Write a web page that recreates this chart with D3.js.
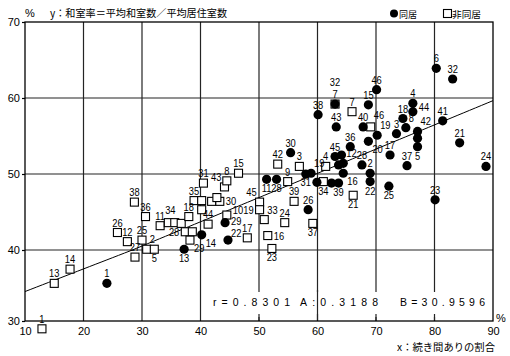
<!DOCTYPE html>
<html><head><meta charset="utf-8">
<script src="https://cdn.jsdelivr.net/npm/d3@7"></script>
<style>
html,body{margin:0;padding:0;background:#fff;}
svg{display:block;}
text{font-family:"Liberation Sans","Noto Sans CJK JP",sans-serif;fill:#000;}
.jp{font-family:"Noto Sans CJK JP",sans-serif;}
</style></head><body>
<svg id="chart" width="510" height="356"></svg>
<script>
// 同居 (filled circles): prefecture number, x = 続き間ありの割合 (%), y = 和室率 (%)
const dojuLabels = ["1","13","14","29","22","30","11","28","","19","26","31","","39","16","45","","","12","36","20","28","2","22","25","17","37","5","","42","3","8","18","4","44","41","6","32","21","24","23","46","15","38","32","43","40","19"];
const dojuX = [24.0,37.2,40.2,44.2,44.7, 55.4,51.3,53.0,58.0,58.9, 58.4,59.9,62.4,63.6,64.4, 63.0,64.1,63.6,64.4,65.6, 68.7,67.6,69.0,69.0,72.2, 72.4,75.3,77.1,77.1,77.1, 73.5,75.1,74.6,76.3,76.3, 81.4,80.3,83.1,84.3,88.8, 80.1,70.1,68.7,60.1,63.0, 63.2,67.8,70.2];
const dojuY = [35.3,40.1,42.0,43.6,41.3, 52.8,49.3,49.3,50.0,50.1, 45.3,48.9,48.8,48.8,50.1, 52.3,52.5,51.2,51.4,53.6, 54.3,51.2,50.1,49.0,48.4, 52.5,51.1,53.6,54.7,55.6, 55.3,56.1,57.3,59.3,58.2, 57.0,63.9,62.5,54.1,51.0, 46.6,61.1,59.1,57.8,59.2, 56.2,56.2,55.1];

// 非同居 (open squares)
const hiLabels = ["1","13","14","26","12","25","27","2","5","38","36","11","34","","","18","28","","29","44","31","35","","","","30","43","","8","15","10","17","45","19","33","24","16","23","37","42","9","39","3","4","34","21","7","7","46"];
const hiX = [12.9,15.0,17.7,25.8,27.5,30.0,28.8,30.8,32.1, 28.7,30.6,33.1,34.5, 35.6,36.7, 38.0,37.4, 38.6, 38.2,41.3,40.5,38.9, 40.2,40.2,41.9, 43.3,44.1, 42.8, 44.5,46.5,44.5,48.0,50.1,50.1,50.9,54.4,51.5,52.2,59.2, 53.2,54.9,56.0,56.9,61.4,61.0,66.1, 65.9,63.0,69.1];
const hiY = [28.9,35.3,37.3,42.3,41.1,41.3,39.0,40.1,40.1, 46.3,44.4,43.2,43.6, 43.6,43.5, 44.4,42.4, 42.4, 41.3,43.4,48.8,46.5, 46.5,45.3,46.4, 46.4,48.3, 46.9, 49.1,50.1,44.6,41.6,46.3,45.3,44.0,43.6,41.9,40.2,43.5, 51.3,49.0,46.4,51.0,51.0,49.0,47.2, 58.2,59.2,56.2];

// axis ticks
const xTicks = [10,20,30,40,50,60,70,80,90];
const yTicks = [30,40,50,60,70];

// regression y = A x + B
const fitR = 0.8301, fitA = 0.3188, fitB = 30.9596;

// where each number sits relative to its mark
const dojuSide = ["n","s","se","ee","ne2", "n","s","s","","ne", "n","w","","s","se", "n","","","ne","n", "se","n","n","s","s", "n","n","s","","ne", "n","ne","n","n","en", "n","n","n","n","n", "n","n","n","n","nn", "n","n","ne"];
const hiSide = ["n","n","n","n","n","n","n","ne","s", "n","n","n","nu", "","", "n","w", "", "se","n","n","n", "","","", "e","nw", "", "n","n","en","n","nw","w","ne","n","e","s","s", "n","n","n","n","n","s","s", "n","n","ne3"];

const svg = d3.select("#chart");
const x = d3.scaleLinear().domain([10, 90]).range([25, 493]);
const y = d3.scaleLinear().domain([30, 40, 70]).range([321, 250, 22]);

const gridColor = "#242424";

// grid
const grid = svg.append("g");
grid.selectAll("line.v").data(xTicks.slice(1, -1)).join("line")
  .attr("class", "v")
  .attr("x1", d => x(d)).attr("x2", d => x(d))
  .attr("y1", y(70)).attr("y2", y(30))
  .attr("stroke", gridColor).attr("stroke-width", 1.2);
grid.selectAll("line.h").data(yTicks.slice(1, -1)).join("line")
  .attr("class", "h")
  .attr("x1", x(10)).attr("x2", x(90))
  .attr("y1", d => y(d)).attr("y2", d => y(d))
  .attr("stroke", gridColor).attr("stroke-width", 1.2);

// band behind the fit statistics
svg.append("rect").attr("x", 208).attr("y", 292).attr("width", 282).attr("height", 22).attr("fill", "#fff");
svg.append("line").attr("x1", x(60)).attr("x2", x(60)).attr("y1", 290).attr("y2", y(30))
  .attr("stroke", gridColor).attr("stroke-width", 1.2);
svg.selectAll("line.tk").data([50, 70, 80]).join("line")
  .attr("class", "tk")
  .attr("x1", d => x(d)).attr("x2", d => x(d)).attr("y1", y(30) - 4).attr("y2", y(30))
  .attr("stroke", gridColor).attr("stroke-width", 1.2);

// frame
svg.append("rect").attr("x", x(10)).attr("y", y(70))
  .attr("width", x(90) - x(10)).attr("height", y(30) - y(70))
  .attr("fill", "none").attr("stroke", "#000").attr("stroke-width", 1.3);

// axes
const yAxis = d3.axisLeft(y).tickValues(yTicks).tickSize(3).tickPadding(2);
svg.append("g").attr("transform", `translate(${x(10)},0)`).call(yAxis)
  .call(a => { a.select(".domain").remove(); a.attr("font-size", 11); a.selectAll("line").attr("stroke", "#000").attr("stroke-width", 1.2); });
const xAxis = d3.axisBottom(x).tickValues(xTicks).tickSize(0).tickPadding(6);
svg.append("g").attr("transform", `translate(0,${y(30)})`).call(xAxis)
  .call(a => { a.select(".domain").remove(); a.attr("font-size", 11); });

// regression line
const fitLine = d3.line().x(v => x(v)).y(v => y(fitA * v + fitB));
svg.append("path").datum(d3.range(10, 90.01, 1)).attr("d", fitLine)
  .attr("fill", "none").attr("stroke", "#000").attr("stroke-width", 1);

const hi = hiLabels.map((l, i) => ({ label: l, x: hiX[i], y: hiY[i], side: hiSide[i] }));
const doju = dojuLabels.map((l, i) => ({ label: l, x: dojuX[i], y: dojuY[i], side: dojuSide[i] }));

// markers
const sq = 8;
svg.append("g").selectAll("rect").data(hi).join("rect")
  .attr("x", d => x(d.x) - sq / 2).attr("y", d => y(d.y) - sq / 2)
  .attr("width", sq).attr("height", sq)
  .attr("fill", "#fff").attr("stroke", "#000").attr("stroke-width", 1.1);
svg.append("g").selectAll("circle").data(doju).join("circle")
  .attr("cx", d => x(d.x)).attr("cy", d => y(d.y)).attr("r", 4.6)
  .attr("fill", "#000");

// point numbers
const offsets = {
  n: [0, -6, "middle"], nn: [0, -18, "middle"], nu: [2, -9, "middle"], s: [0, 13, "middle"],
  e: [6, 4, "start"], w: [-6, 4, "end"], en: [6, -1, "start"], ee: [6, 2, "start"],
  ne: [3, -6, "start"], ne2: [3, -3, "start"], ne3: [3, -8, "start"], nw: [-3, -6, "end"],
  se: [4, 12, "start"], sw: [-4, 12, "end"]
};
const labelled = hi.concat(doju).filter(d => d.label && d.side);
svg.append("g").selectAll("text").data(labelled).join("text")
  .attr("transform", d => { const o = offsets[d.side]; return `translate(${x(d.x) + o[0]},${y(d.y) + o[1]}) scale(0.85,1)`; })
  .attr("text-anchor", d => offsets[d.side][2])
  .attr("font-size", 11)
  .text(d => d.label);

// titles
svg.append("text").attr("x", 25).attr("y", 17).attr("font-size", 11).text("%");
svg.append("text").attr("class", "jp").attr("x", 50).attr("y", 17).attr("font-size", 10)
  .attr("textLength", 177).attr("lengthAdjust", "spacingAndGlyphs")
  .text("y：和室率＝平均和室数／平均居住室数");
svg.append("text").attr("x", 496).attr("y", 322).attr("font-size", 11).text("%");
svg.append("text").attr("class", "jp").attr("x", 397).attr("y", 351).attr("font-size", 10)
  .attr("textLength", 98).attr("lengthAdjust", "spacingAndGlyphs")
  .text("x：続き間ありの割合");

// legend
svg.append("circle").attr("cx", 394).attr("cy", 13.5).attr("r", 4).attr("fill", "#000");
svg.append("text").attr("class", "jp").attr("x", 399).attr("y", 17.5).attr("font-size", 9.5)
  .attr("textLength", 18).attr("lengthAdjust", "spacingAndGlyphs").text("同居");
svg.append("rect").attr("x", 443.5).attr("y", 9.5).attr("width", 8).attr("height", 8)
  .attr("fill", "#fff").attr("stroke", "#000").attr("stroke-width", 1.1);
svg.append("text").attr("class", "jp").attr("x", 452).attr("y", 17.5).attr("font-size", 9.5)
  .attr("textLength", 29).attr("lengthAdjust", "spacingAndGlyphs").text("非同居");

// fit statistics
const stats = [
  { t: `r=${fitR.toFixed(4)}`, x: 213, w: 77 },
  { t: `A:${fitA.toFixed(4)}`, x: 300, w: 78 },
  { t: `B=${fitB.toFixed(4)}`, x: 400, w: 85 }
];
svg.append("g").selectAll("text").data(stats).join("text")
  .attr("x", d => d.x).attr("y", 306).attr("font-size", 10.5)
  .attr("textLength", d => d.w).attr("lengthAdjust", "spacing")
  .text(d => d.t);
</script>
</body></html>
